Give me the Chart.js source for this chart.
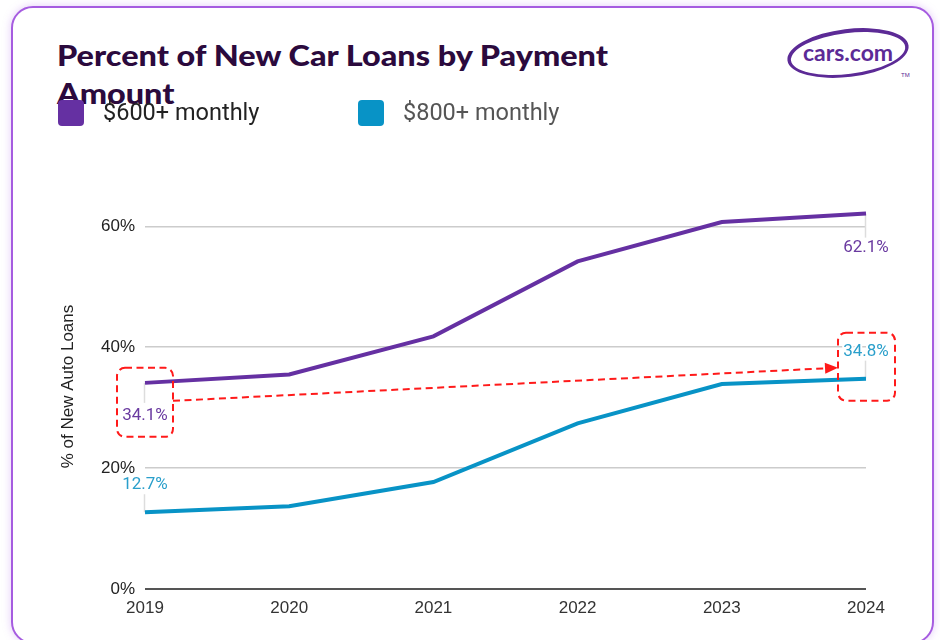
<!DOCTYPE html>
<html><head><meta charset="utf-8">
<script src="https://cdn.jsdelivr.net/npm/chart.js@4"></script>
<style>
html,body{margin:0;padding:0;background:#fff;width:940px;height:640px;overflow:hidden;}
#card{position:absolute;left:11px;top:6px;width:919px;height:634px;border:2px solid #a65ce0;border-radius:22px;box-shadow:0 0 9px rgba(175,105,235,0.35);background:#fff;}
#title{position:absolute;left:57px;top:36px;margin:0;font-family:Lato,sans-serif;font-weight:900;font-size:28px;line-height:38px;color:#2b0a3d;white-space:nowrap;transform-origin:0 0;}
#logo{position:absolute;left:778px;top:20px;}
#wrap{position:absolute;left:0;top:0;width:940px;height:640px;}
</style></head>
<body>
<div id="card"></div>
<h1 id="title"><span id="t1">Percent of New Car Loans by Payment</span><br>Amount</h1>
<svg id="logo" width="145" height="70" viewBox="0 0 145 70">
  <path fill="#5c2a96" fill-rule="evenodd" d="M9 33 a61 24 0 1 0 122 0 a61 24 0 1 0 -122 0 Z M12.5 33.5 a57.5 20.5 0 1 0 115 0 a57.5 20.5 0 1 0 -115 0 Z" transform="rotate(-7 70 33)"/>
  <text x="70" y="41" text-anchor="middle" font-family="Lato, sans-serif" font-weight="700" font-size="23" fill="#5c2a96">cars.com</text>
  <text x="123" y="57" font-family="Liberation Sans, sans-serif" font-size="6" fill="#5c2a96">TM</text>
</svg>
<div id="wrap"><canvas id="c" width="940" height="640"></canvas></div>
<script>
const years = ['2019','2020','2021','2022','2023','2024'];
const over600 = [34.1, 35.5, 41.8, 54.2, 60.7, 62.1];
const over800 = [12.7, 13.7, 17.7, 27.4, 33.9, 34.8];
const seriesNames = ['$600+ monthly', '$800+ monthly'];
const seriesColors = ['#6530a2', '#0893c6'];
const labelColors = ['#6a3aa0', '#2a9fcb'];
const yTicks = [0, 20, 40, 60];
const yTitle = '% of New Auto Loans';

// stretch title to reference width
(function(){
  const t = document.getElementById('title');
  const w = document.getElementById('t1').getBoundingClientRect().width;
  if (w > 0) t.style.transform = 'scaleX(' + (551 / w) + ')';
})();

function rr(ctx, x, y, w, h, r) {
  ctx.beginPath();
  ctx.moveTo(x + r, y);
  ctx.arcTo(x + w, y, x + w, y + h, r);
  ctx.arcTo(x + w, y + h, x, y + h, r);
  ctx.arcTo(x, y + h, x, y, r);
  ctx.arcTo(x, y, x + w, y, r);
  ctx.closePath();
}

const annot = {
  id: 'annot',
  beforeDatasetsDraw(chart) {
    const ctx = chart.ctx, xs = chart.scales.x, ys = chart.scales.y;
    const last = years.length - 1;
    ctx.save();
    ctx.strokeStyle = '#dddddd';
    ctx.lineWidth = 1.5;
    const segs = [
      [xs.getPixelForValue(0), ys.getPixelForValue(over600[0]), 20],
      [xs.getPixelForValue(last), ys.getPixelForValue(over600[last]), 24],
      [xs.getPixelForValue(0), ys.getPixelForValue(over800[0]), -18],
      [xs.getPixelForValue(last), ys.getPixelForValue(over800[last]), -18]
    ];
    segs.forEach(([x, y, d]) => {
      ctx.beginPath(); ctx.moveTo(Math.round(x) - 0.5, y); ctx.lineTo(Math.round(x) - 0.5, y + d); ctx.stroke();
    });
    ctx.restore();
  },
  afterDatasetsDraw(chart) {
    const ctx = chart.ctx, xs = chart.scales.x, ys = chart.scales.y;
    const last = years.length - 1;
    const x0 = xs.getPixelForValue(0), xN = xs.getPixelForValue(last);
    const labels = [
      [over600[0], x0, ys.getPixelForValue(over600[0]) + 33, labelColors[0]],
      [over600[last], xN, ys.getPixelForValue(over600[last]) + 34, labelColors[0]],
      [over800[0], x0, ys.getPixelForValue(over800[0]) - 27, labelColors[1]],
      [over800[last], xN, ys.getPixelForValue(over800[last]) - 27, labelColors[1]]
    ];
    ctx.save();
    ctx.font = '17px Roboto';
    ctx.textAlign = 'center';
    ctx.textBaseline = 'middle';
    labels.forEach(([v, x, y, col]) => {
      const t = v.toFixed(1) + '%';
      ctx.lineJoin = 'round';
      ctx.strokeStyle = '#ffffff';
      ctx.lineWidth = 4;
      ctx.strokeText(t, x, y);
      ctx.fillStyle = col;
      ctx.fillText(t, x, y);
    });
    // red dashed annotation boxes + arrow
    ctx.strokeStyle = '#ff1a1a';
    ctx.fillStyle = '#ff1a1a';
    ctx.lineWidth = 2;
    ctx.setLineDash([7, 4.5]);
    const b1 = {x: x0 - 28, y: labels[0][2] - 48, w: 56, h: 69};
    const b2 = {x: xN - 28, y: labels[3][2] - 19, w: 57, h: 68};
    rr(ctx, b1.x, b1.y, b1.w, b1.h, 8); ctx.stroke();
    rr(ctx, b2.x, b2.y, b2.w, b2.h, 8); ctx.stroke();
    const sx = b1.x + b1.w, sy = b1.y + 33;
    const ex = b2.x, ey = b2.y + 35;
    const ang = Math.atan2(ey - sy, ex - sx);
    const hl = 13, hw = 5.5;
    const bx = ex - hl * Math.cos(ang), by = ey - hl * Math.sin(ang);
    ctx.beginPath(); ctx.moveTo(sx, sy); ctx.lineTo(bx, by); ctx.stroke();
    ctx.setLineDash([]);
    ctx.beginPath();
    ctx.moveTo(ex, ey);
    ctx.lineTo(bx - hw * Math.sin(ang), by + hw * Math.cos(ang));
    ctx.lineTo(bx + hw * Math.sin(ang), by - hw * Math.cos(ang));
    ctx.closePath(); ctx.fill();
    ctx.restore();
  },
  afterDraw(chart) {
    const ctx = chart.ctx;
    ctx.save();
    const items = [[58, '#222222'], [358, '#555555']];
    items.forEach(([x, tc], i) => {
      ctx.fillStyle = seriesColors[i];
      rr(ctx, x, 100, 26, 26, 4); ctx.fill();
      ctx.fillStyle = tc;
      ctx.font = '23.5px Roboto';
      ctx.textBaseline = 'middle';
      ctx.textAlign = 'left';
      ctx.fillText(seriesNames[i], x + 45, 114);
    });
    ctx.restore();
  }
};

new Chart(document.getElementById('c'), {
  type: 'line',
  data: {
    labels: years,
    datasets: [
      {label: seriesNames[0], data: over600, borderColor: seriesColors[0], backgroundColor: seriesColors[0]},
      {label: seriesNames[1], data: over800, borderColor: seriesColors[1], backgroundColor: seriesColors[1]}
    ]
  },
  options: {
    responsive: false,
    animation: false,
    layout: {padding: {left: 58, right: 74, top: 184, bottom: 0}},
    elements: {line: {borderWidth: 4, tension: 0, borderCapStyle: 'butt'}, point: {radius: 0, hoverRadius: 0}},
    plugins: {legend: {display: false}, tooltip: {enabled: false}},
    scales: {
      x: {
        grid: {display: false, drawTicks: false},
        border: {display: false},
        ticks: {font: {family: 'Liberation Sans', size: 17}, color: '#333', padding: 9, maxRotation: 0},
        afterFit: s => { s.height = 51; }
      },
      y: {
        min: 0, max: 67,
        afterBuildTicks: s => { s.ticks = yTicks.map(v => ({value: v})); },
        ticks: {callback: v => v + '%', font: {family: 'Liberation Sans', size: 17}, color: '#222', padding: 10},
        grid: {drawTicks: false, color: c => c.tick && c.tick.value === 0 ? '#555' : '#cccccc', lineWidth: c => c.tick && c.tick.value === 0 ? 2 : 1.5},
        border: {display: false},
        title: {display: true, text: yTitle, font: {family: 'Liberation Sans', size: 17}, color: '#222', padding: 0},
        afterFit: s => { s.width = 87; }
      }
    }
  },
  plugins: [annot]
});
</script>
</body></html>
